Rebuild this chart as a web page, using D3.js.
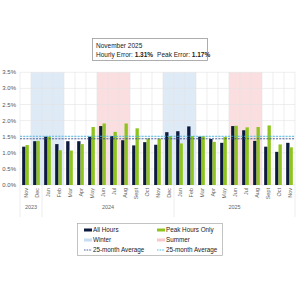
<!DOCTYPE html>
<html><head><meta charset="utf-8">
<script src="https://cdn.jsdelivr.net/npm/d3@7"></script>
<style>body{margin:0;background:#fff}svg{display:block;font-family:"Liberation Sans",Arial,sans-serif}</style>
</head><body><svg id="c" width="300" height="300"></svg>
<script>
const months = ["Nov","Dec","Jan","Feb","Mar","Apr","May","Jun","Jul","Aug","Sept","Oct","Nov","Dec","Jan","Feb","Mar","Apr","May","Jun","Jul","Aug","Sept","Oct","Nov"];
const years = [{label:"2023",from:0,to:1},{label:"2024",from:2,to:13},{label:"2025",from:14,to:24}];
const allHours = [1.19,1.36,1.50,1.27,1.36,1.36,1.50,1.83,1.52,1.39,1.23,1.33,1.25,1.64,1.67,1.82,1.50,1.43,1.31,1.83,1.70,1.37,1.19,1.03,1.31];
const peakHours = [1.24,1.37,1.50,1.08,1.07,1.27,1.80,1.91,1.65,1.91,1.76,1.45,1.44,1.52,1.29,1.52,1.51,1.34,1.49,1.84,1.79,1.80,1.85,1.26,1.17];
const winterRanges = [[1,3],[13,15]];
const summerRanges = [[7,9],[19,21]];
const yTicks = [0,0.5,1,1.5,2,2.5,3,3.5];

const svg = d3.select("#c");
const L=20,R=295,T=72.3,B=185;
const idx = d3.range(months.length);
const x = d3.scaleBand().domain(idx).range([L,R]).paddingInner(0).paddingOuter(0);
const xi = d3.scaleBand().domain(["a","p"]).range([0,x.bandwidth()]).paddingOuter(0.65);
const y = d3.scaleLinear().domain([0,3.5]).range([B,T]);
const navy="#0c1a3d", green="#8fc31f";

// seasonal shading
svg.selectAll(".w").data(winterRanges).join("rect").attr("x",d=>x(d[0])).attr("width",d=>x(d[1])+x.bandwidth()-x(d[0]))
  .attr("y",T).attr("height",B-T).attr("fill","#dfeaf7");
svg.selectAll(".s").data(summerRanges).join("rect").attr("x",d=>x(d[0])).attr("width",d=>x(d[1])+x.bandwidth()-x(d[0]))
  .attr("y",T).attr("height",B-T).attr("fill","#fbdfe0");

// grid
svg.append("g").selectAll("line").data(yTicks).join("line").attr("x1",L).attr("x2",R).attr("y1",d=>y(d)).attr("y2",d=>y(d)).attr("stroke","#e3e3e3").attr("stroke-width",0.6);
svg.append("g").selectAll("line").data(d3.range(months.length+1)).join("line")
  .attr("x1",d=>L+d*x.step()).attr("x2",d=>L+d*x.step()).attr("y1",T).attr("y2",B).attr("stroke","#e3e3e3").attr("stroke-width",0.6);

// y axis labels
svg.append("g").selectAll("text").data(yTicks).join("text").attr("x",16).attr("y",d=>y(d)+2).attr("text-anchor","end")
  .attr("font-size",6).attr("fill","#555").text(d=>d.toFixed(1)+"%");

// bars
const g = svg.append("g");
g.selectAll(".a").data(allHours).join("rect").attr("x",(d,i)=>x(i)+xi("a")).attr("width",xi.bandwidth())
  .attr("y",d=>y(d)).attr("height",d=>B-y(d)).attr("fill",navy);
g.selectAll(".p").data(peakHours).join("rect").attr("x",(d,i)=>x(i)+xi("p")).attr("width",xi.bandwidth())
  .attr("y",d=>y(d)).attr("height",d=>B-y(d)).attr("fill",green);

// averages
const avgA = d3.mean(allHours), avgP = d3.mean(peakHours);
svg.append("line").attr("x1",L).attr("x2",R).attr("y1",y(avgA)).attr("y2",y(avgA)).attr("stroke","#3a4f8f").attr("stroke-width",0.9).attr("stroke-dasharray","2,1.2");
svg.append("line").attr("x1",L).attr("x2",R).attr("y1",y(avgP)).attr("y2",y(avgP)).attr("stroke","#3bb4e5").attr("stroke-width",0.9).attr("stroke-dasharray","2,1.2");

// x labels
svg.append("g").selectAll("text").data(months).join("text")
  .attr("transform",(d,i)=>`translate(${x(i)+x.bandwidth()/2+2},188) rotate(-90)`).attr("text-anchor","end")
  .attr("font-size",5.5).attr("fill","#666").text(d=>d);
// year groups
const yg = svg.append("g");
yg.selectAll("text").data(years).join("text").attr("x",d=>(x(d.from)+x(d.to)+x.bandwidth())/2).attr("y",209)
  .attr("text-anchor","middle").attr("font-size",5.5).attr("fill","#666").text(d=>d.label);
yg.selectAll("line").data([L].concat(years.map(d=>x(d.to)+x.bandwidth()))).join("line")
  .attr("x1",d=>d).attr("x2",d=>d).attr("y1",B).attr("y2",217).attr("stroke","#e0e0e0").attr("stroke-width",0.6);

// title box
svg.append("rect").attr("x",92.5).attr("y",38.5).attr("width",115).attr("height",22).attr("fill","#fff").attr("stroke","#999").attr("stroke-width",0.8);
svg.append("text").attr("x",96).attr("y",48).attr("font-size",6.5).attr("fill","#222").text("November 2025");
const t2 = svg.append("text").attr("x",96).attr("y",57).attr("font-size",6.5).attr("fill","#222");
t2.append("tspan").text("Hourly Error: ");
t2.append("tspan").attr("font-weight","bold").text("1.31%");
t2.append("tspan").attr("dx",4).text("Peak Error: ");
t2.append("tspan").attr("font-weight","bold").text("1.17%");

// legend
svg.append("rect").attr("x",77.5).attr("y",223.5).attr("width",145).attr("height",32).attr("fill","#fff").attr("stroke","#aaa").attr("stroke-width",0.7);
const leg = [
  {label:"All Hours",type:"rect",color:navy,cx:84,cy:230},
  {label:"Peak Hours Only",type:"rect",color:green,cx:157,cy:230},
  {label:"Winter",type:"rect",color:"#c5dcf3",cx:84,cy:240},
  {label:"Summer",type:"rect",color:"#f8c9cc",cx:157,cy:240},
  {label:"25-month Average",type:"dash",color:"#3a4f8f",cx:84,cy:250},
  {label:"25-month Average",type:"dash",color:"#3bb4e5",cx:157,cy:250}
];
const lg = svg.append("g").selectAll("g").data(leg).join("g").attr("transform",d=>`translate(${d.cx},${d.cy})`);
lg.filter(d=>d.type==="rect").append("rect").attr("x",0).attr("y",-1.5).attr("width",8).attr("height",3).attr("fill",d=>d.color);
lg.filter(d=>d.type==="dash").append("line").attr("x1",0).attr("x2",8).attr("y1",0).attr("y2",0).attr("stroke",d=>d.color).attr("stroke-width",0.9).attr("stroke-dasharray","1.6,1");
lg.append("text").attr("x",9).attr("y",2.2).attr("font-size",6.3).attr("fill","#222").text(d=>d.label);
</script></body></html>
